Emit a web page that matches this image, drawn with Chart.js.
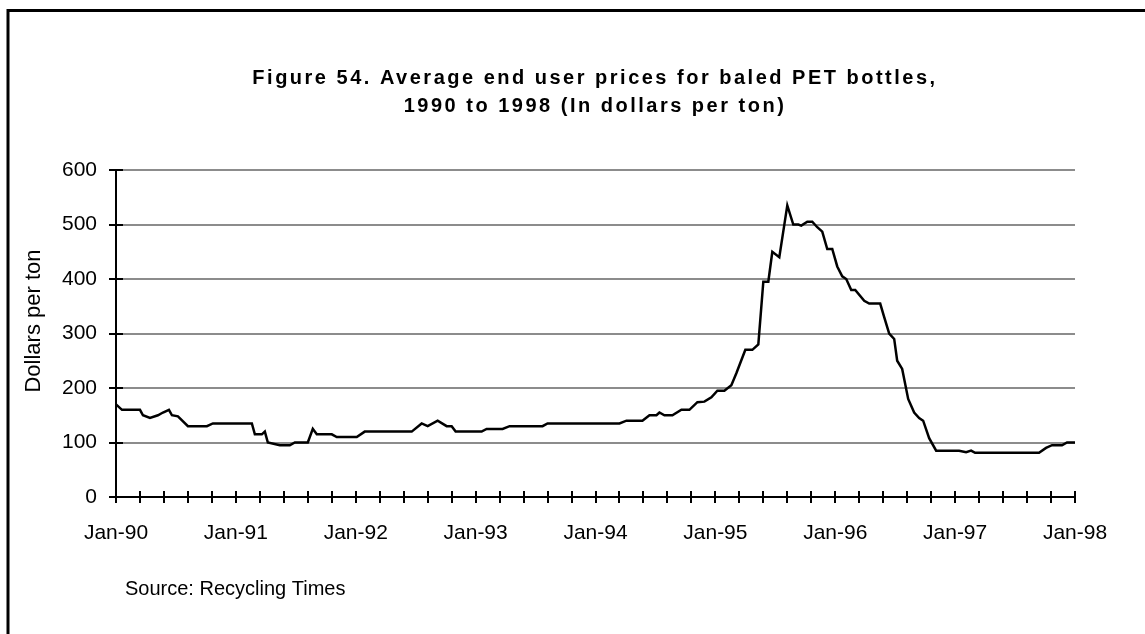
<!DOCTYPE html>
<html>
<head>
<meta charset="utf-8">
<script src="https://cdn.jsdelivr.net/npm/chart.js@4.4.1/dist/chart.umd.min.js"></script>
<style>
  html, body { margin: 0; padding: 0; background: #ffffff; }
  canvas { display: block; }
</style>
</head>
<body>
<canvas id="chart" width="1145" height="634"></canvas>
<script>
// Months elapsed since January 1990 for each price reading
const monthOffsets = [
  0, 0.6, 2.4, 2.7, 3.4, 4.2, 4.7, 5.3, 5.6, 6.2,
  7.2, 9.1, 9.7, 13.6, 13.9, 14.6, 14.9, 15.2, 16.4, 17.4,
  17.9, 19.2, 19.7, 20.1, 21.6, 22.1, 24.1, 24.9, 29.6, 30.6,
  31.2, 32.2, 33.1, 33.6, 34.0, 36.6, 37.1, 38.7, 39.4, 42.7,
  43.2, 50.4, 51.1, 52.7, 53.4, 54.1, 54.4, 54.9, 55.7, 56.6,
  57.4, 58.2, 58.9, 59.6, 60.2, 60.9, 61.6, 62.1, 63.0, 63.7,
  64.3, 64.8, 65.3, 65.7, 66.4, 67.2, 67.8, 68.3, 68.6, 69.2,
  69.7, 70.2, 70.7, 71.2, 71.7, 72.2, 72.7, 73.1, 73.6, 74.0,
  74.9, 75.4, 76.5, 76.9, 77.4, 77.9, 78.2, 78.7, 79.3, 79.9,
  80.4, 80.8, 81.4, 82.1, 84.4, 85.1, 85.6, 86.0, 92.4, 93.1,
  93.7, 94.7, 95.2, 96
];

// Average end user price, dollars per ton
const prices = [
  170, 160, 160, 150, 145, 150, 155, 160, 150, 148,
  130, 130, 135, 135, 115, 115, 120, 100, 95, 95,
  100, 100, 125, 115, 115, 110, 110, 120, 120, 135,
  130, 140, 130, 130, 120, 120, 125, 125, 130, 130,
  135, 135, 140, 140, 150, 150, 155, 150, 150, 160,
  160, 174, 175, 183, 195, 195, 205, 227, 270, 270,
  280, 395, 395, 450, 440, 535, 500, 500, 498, 505,
  505, 495, 487, 455, 455, 423, 405, 400, 380, 380,
  360, 355, 355, 330, 300, 290, 250, 235, 180, 155,
  145, 140, 108, 85, 85, 82, 85, 81, 81, 90,
  95, 95, 100, 100
];

// Axis labels and captions
const yearLabels = ['Jan-90', 'Jan-91', 'Jan-92', 'Jan-93', 'Jan-94', 'Jan-95', 'Jan-96', 'Jan-97', 'Jan-98'];
const titleLines = ['Figure 54. Average end user prices for baled PET bottles,', '1990 to 1998 (In dollars per ton)'];
const yAxisTitle = 'Dollars per ton';
const sourceNote = 'Source: Recycling Times';

const FONT = '"Liberation Sans", Arial, Helvetica, sans-serif';

// White page with the frame lines along the left and top edges
const framePlugin = {
  id: 'frame',
  beforeDraw(chart) {
    const ctx = chart.ctx;
    ctx.save();
    ctx.fillStyle = '#ffffff';
    ctx.fillRect(0, 0, chart.width, chart.height);
    ctx.strokeStyle = '#000000';
    ctx.lineWidth = 3;
    ctx.beginPath();
    ctx.moveTo(8, 9);
    ctx.lineTo(8, chart.height);
    ctx.moveTo(6.5, 10.5);
    ctx.lineTo(chart.width, 10.5);
    ctx.stroke();
    ctx.restore();
  }
};

// Tick marks that cross both axis lines
const crossTicksPlugin = {
  id: 'crossTicks',
  afterDatasetsDraw(chart) {
    const ctx = chart.ctx;
    const xs = chart.scales.x, ys = chart.scales.y;
    const area = chart.chartArea;
    ctx.save();
    ctx.strokeStyle = '#000000';
    ctx.lineWidth = 2;
    ctx.beginPath();
    xs.ticks.forEach(t => {
      const px = Math.round(xs.getPixelForValue(t.value));
      ctx.moveTo(px, area.bottom - 6);
      ctx.lineTo(px, area.bottom + 6);
    });
    ys.ticks.forEach(t => {
      const py = Math.round(ys.getPixelForValue(t.value));
      ctx.moveTo(area.left - 7, py);
      ctx.lineTo(area.left + 7, py);
    });
    ctx.stroke();
    ctx.restore();
  }
};

// Letter-spaced heading, vertical axis title and the source note
const captionPlugin = {
  id: 'captions',
  afterDraw(chart) {
    const ctx = chart.ctx;
    ctx.save();
    ctx.fillStyle = '#000000';
    ctx.font = 'bold 20px ' + FONT;
    ctx.letterSpacing = '2.5px';
    ctx.textAlign = 'center';
    ctx.textBaseline = 'middle';
    ctx.fillText(titleLines[0], 595, 78);
    ctx.fillText(titleLines[1], 595, 106);
    ctx.letterSpacing = '0px';

    ctx.save();
    ctx.translate(34, 321);
    ctx.rotate(-Math.PI / 2);
    ctx.font = '22px ' + FONT;
    ctx.fillText(yAxisTitle, 0, 0);
    ctx.restore();

    ctx.font = '20px ' + FONT;
    ctx.textAlign = 'left';
    ctx.fillText(sourceNote, 125, 589);
    ctx.restore();
  }
};

const points = monthOffsets.map((m, i) => ({ x: m, y: prices[i] }));

new Chart(document.getElementById('chart'), {
  type: 'line',
  data: {
    datasets: [{
      data: points,
      borderColor: '#000000',
      borderWidth: 2.5,
      pointRadius: 0,
      tension: 0,
      fill: false
    }]
  },
  options: {
    responsive: false,
    animation: false,
    devicePixelRatio: 1,
    layout: { padding: { left: 0, top: 170, right: 70, bottom: 77 } },
    plugins: {
      legend: { display: false },
      title: { display: false },
      tooltip: { enabled: false }
    },
    scales: {
      x: {
        type: 'linear',
        min: 0,
        max: 96,
        afterFit(scale) { scale.height = 60; },
        ticks: {
          stepSize: 2.4,
          maxTicksLimit: 100,
          autoSkip: false,
          maxRotation: 0,
          minRotation: 0,
          padding: 24,
          color: '#000000',
          font: { family: FONT, size: 21 },
          callback(value) {
            const yr = value / 12;
            return Math.abs(yr - Math.round(yr)) < 1e-6 ? yearLabels[Math.round(yr)] : '';
          }
        },
        grid: { display: true, drawOnChartArea: false, drawTicks: false },
        border: { display: true, color: '#000000', width: 2 }
      },
      y: {
        min: 0,
        max: 600,
        afterFit(scale) { scale.width = 116; },
        ticks: {
          stepSize: 100,
          padding: 19,
          color: '#000000',
          font: { family: FONT, size: 21 }
        },
        grid: { color: '#8c8c8c', lineWidth: 2, drawTicks: false },
        border: { display: true, color: '#000000', width: 2 }
      }
    }
  },
  plugins: [framePlugin, crossTicksPlugin, captionPlugin]
});
</script>
</body>
</html>
